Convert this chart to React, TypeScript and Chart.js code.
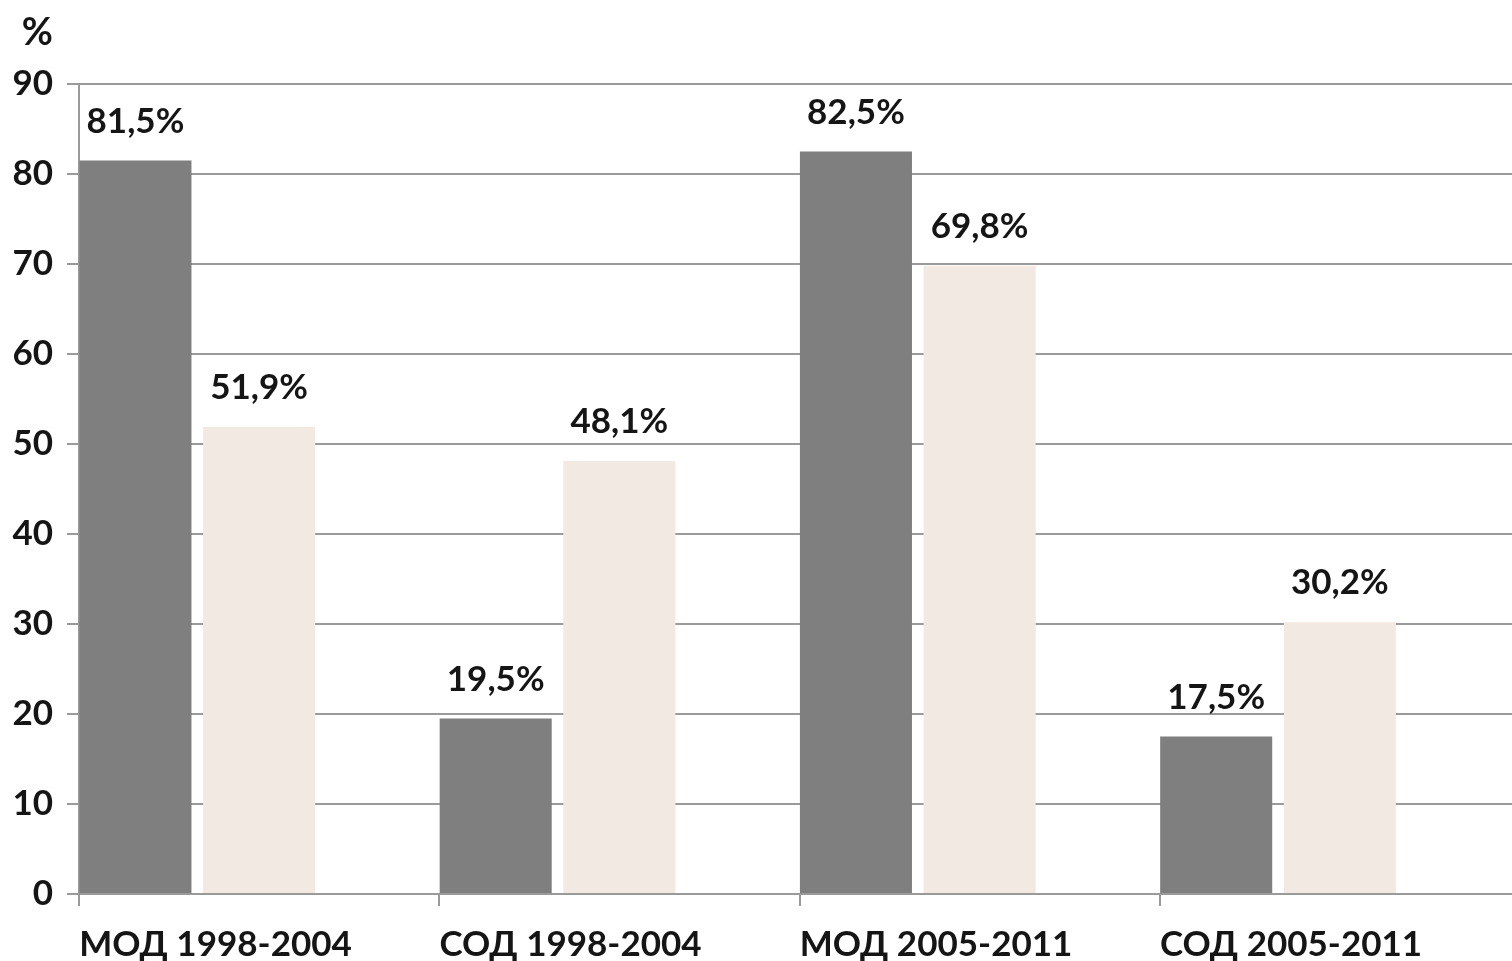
import React, { useEffect, useRef } from "react";
import { Chart, registerables } from "chart.js";

Chart.register(...registerables);

const categories = ["МОД 1998-2004", "СОД 1998-2004", "МОД 2005-2011", "СОД 2005-2011"];
const darkValues = [81.5, 19.5, 82.5, 17.5];
const lightValues = [51.9, 48.1, 69.8, 30.2];
const spacerValues = [null, null, null, null];
const yTicksMin = 0;
const yTicksMax = 90;
const yTickStep = 10;
const unitLabel = "%";

const FONT = "Lato, 'Open Sans', sans-serif";
const TEXT = "#151515";
const GRID = "#9a9a9a";

const fmt = (v: number) => v.toFixed(1).replace(".", ",") + "%";

const labelPlugin = {
  id: "barLabels",
  afterDatasetsDraw(chart: any) {
    const ctx = chart.ctx;
    ctx.save();
    ctx.font = `bold 35px ${FONT}`;
    ctx.fillStyle = TEXT;
    ctx.textAlign = "center";
    ctx.textBaseline = "alphabetic";
    [0, 1].forEach((di) => {
      const meta = chart.getDatasetMeta(di);
      meta.data.forEach((bar: any, i: number) => {
        const v = chart.data.datasets[di].data[i];
        if (v == null) return;
        ctx.fillText(fmt(v), bar.x, bar.y - 28);
      });
    });
    const ys = chart.scales.y;
    ctx.font = `bold 38px ${FONT}`;
    ctx.textAlign = "right";
    ctx.fillText(unitLabel, ys.right - 12 - 14, chart.chartArea.top - 39);
    ctx.restore();
  },
};

export default function App() {
  const ref = useRef<HTMLCanvasElement | null>(null);
  useEffect(() => {
    document.body.style.margin = "0";
    const chart = new Chart(ref.current!, {
      type: "bar",
      data: {
        labels: categories,
        datasets: [
          { label: "dark", data: darkValues, backgroundColor: "#7f7f7f" },
          { label: "light", data: lightValues, backgroundColor: "#f2e9e3" },
          { label: "", data: spacerValues as any, backgroundColor: "rgba(0,0,0,0)" },
        ],
      },
      plugins: [labelPlugin],
      options: {
        animation: false,
        responsive: true,
        maintainAspectRatio: false,
        devicePixelRatio: 1,
        layout: { padding: { top: 84, bottom: -23, left: 0, right: 0 } },
        datasets: { bar: { categoryPercentage: 1.03, barPercentage: 0.906 } },
        plugins: { legend: { display: false }, tooltip: { enabled: false }, title: { display: false } },
        scales: {
          x: {
            afterFit: (s: any) => { s.paddingLeft = 0; s.paddingRight = 0; },
            grid: { drawOnChartArea: false, drawTicks: true, tickLength: 12, color: GRID, lineWidth: 2 },
            border: { color: GRID, width: 2 },
            ticks: {
              color: TEXT,
              font: { family: FONT, size: 35, weight: "bold" },
              align: "start",
              labelOffset: -180,
              padding: 18,
              maxRotation: 0,
              autoSkip: false,
            },
          },
          y: {
            min: yTicksMin,
            max: yTicksMax,
            afterFit: (s: any) => { s.width = 79; },
            grid: { color: GRID, lineWidth: 2, tickLength: 12 },
            border: { color: GRID, width: 2 },
            ticks: {
              stepSize: yTickStep,
              color: TEXT,
              font: { family: FONT, size: 35, weight: "bold" },
              padding: 14,
            },
          },
        },
      },
    });
    return () => chart.destroy();
  }, []);
  return (
    <div style={{ position: "fixed", left: 0, top: 0, width: 1512, height: 961, overflow: "hidden", background: "#fff" }}>
      <div style={{ width: 1520, height: 961, position: "relative" }}>
        <canvas ref={ref} />
      </div>
    </div>
  );
}
